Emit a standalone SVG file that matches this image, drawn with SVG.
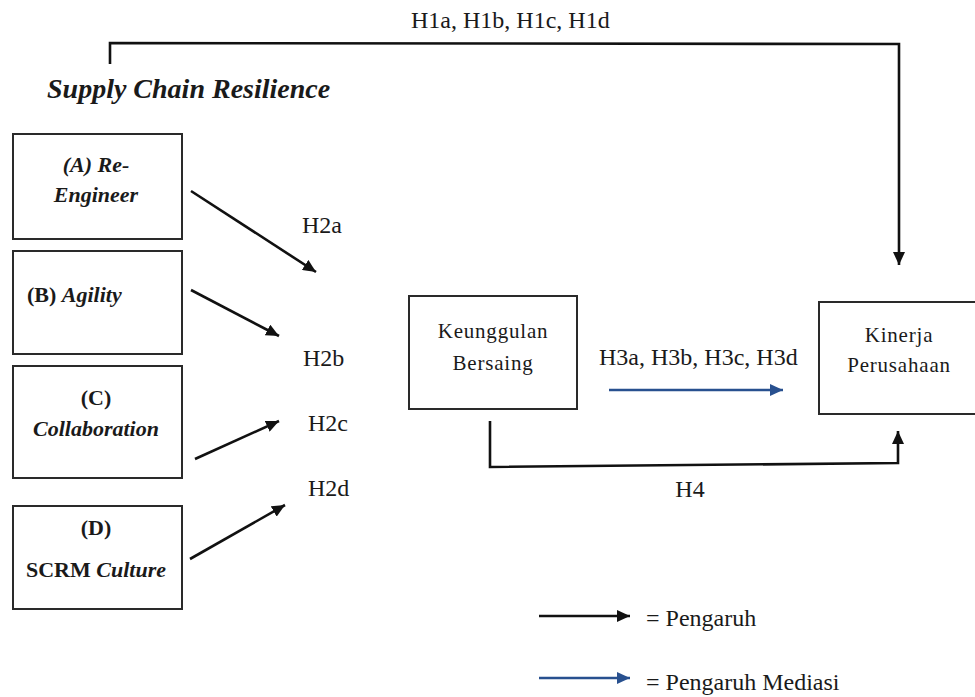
<svg xmlns="http://www.w3.org/2000/svg" width="975" height="697" viewBox="0 0 975 697">
<defs>
<style>
.box{fill:#fff;stroke:#2a2a2a;stroke-width:2}
.t{font-family:"Liberation Serif","Times New Roman",serif;fill:#1a1a1a}
.lbl{font-size:24px}
.bi{font-weight:bold;font-style:italic}
.b{font-weight:bold}
.node{font-size:22px;font-weight:bold;text-anchor:middle}
.reg{font-size:21px;font-weight:normal;text-anchor:middle;letter-spacing:0.8px}
.ln{fill:none;stroke:#111;stroke-width:2.6}
.blue{fill:none;stroke:#28508f;stroke-width:2.6}
</style>
<marker id="ah" markerUnits="userSpaceOnUse" markerWidth="14" markerHeight="12" refX="13" refY="6" orient="auto">
<path d="M0,0 L13,6 L0,12 Z" fill="#111"/>
</marker>
<marker id="ahb" markerUnits="userSpaceOnUse" markerWidth="14" markerHeight="12" refX="13" refY="6" orient="auto">
<path d="M0,0 L13,6 L0,12 Z" fill="#28508f"/>
</marker>
</defs>
<rect width="975" height="697" fill="#fff"/>

<text class="t bi" x="47" y="98" font-size="28">Supply Chain Resilience</text>

<g id="nodeA">
<rect class="box" x="13" y="134" width="169" height="105"/>
<text class="t node bi" x="96" y="172">(A) Re-</text>
<text class="t node bi" x="96" y="202">Engineer</text>
</g>
<g id="nodeB">
<rect class="box" x="13" y="251" width="169" height="103"/>
<text class="t b" x="27" y="302" font-size="22">(B) <tspan class="bi">Agility</tspan></text>
</g>
<g id="nodeC">
<rect class="box" x="13" y="366" width="169" height="112"/>
<text class="t node" x="96" y="405">(C)</text>
<text class="t node bi" x="96" y="436">Collaboration</text>
</g>
<g id="nodeD">
<rect class="box" x="13" y="506" width="169" height="103"/>
<text class="t node" x="96" y="535">(D)</text>
<text class="t node" x="96" y="577">SCRM <tspan class="bi">Culture</tspan></text>
</g>
<g id="nodeKB">
<rect class="box" x="409" y="296" width="168" height="113"/>
<text class="t reg" x="493" y="338">Keunggulan</text>
<text class="t reg" x="493" y="370">Bersaing</text>
</g>
<g id="nodeKP">
<rect class="box" x="819" y="302" width="170" height="112"/>
<text class="t reg" x="899" y="342">Kinerja</text>
<text class="t reg" x="899" y="372">Perusahaan</text>
</g>

<g id="connectors">
<polyline class="ln" points="110,64 110,43 899,44 899,265" marker-end="url(#ah)"/>
<line class="ln" x1="191" y1="191" x2="316" y2="272" marker-end="url(#ah)"/>
<line class="ln" x1="191" y1="290" x2="279" y2="336" marker-end="url(#ah)"/>
<line class="ln" x1="195" y1="459" x2="279" y2="421" marker-end="url(#ah)"/>
<line class="ln" x1="190" y1="559" x2="285" y2="505" marker-end="url(#ah)"/>
<polyline class="ln" points="490,421 490,467 898,463 898,431" marker-end="url(#ah)"/>
<line class="blue" x1="609" y1="390" x2="783" y2="390" marker-end="url(#ahb)"/>
<line class="ln" x1="539" y1="616" x2="630" y2="616" marker-end="url(#ah)"/>
<line class="blue" x1="539" y1="678" x2="630" y2="678" marker-end="url(#ahb)"/>
</g>

<g id="labels">
<text class="t lbl" x="411" y="28">H1a, H1b, H1c, H1d</text>
<text class="t lbl" x="302" y="233">H2a</text>
<text class="t lbl" x="303" y="366">H2b</text>
<text class="t lbl" x="308" y="431">H2c</text>
<text class="t lbl" x="308" y="496">H2d</text>
<text class="t lbl" x="599" y="365">H3a, H3b, H3c, H3d</text>
<text class="t lbl" x="690" y="497" text-anchor="middle">H4</text>
<text class="t lbl" x="646" y="626">= Pengaruh</text>
<text class="t lbl" x="646" y="690">= Pengaruh Mediasi</text>
</g>
</svg>
